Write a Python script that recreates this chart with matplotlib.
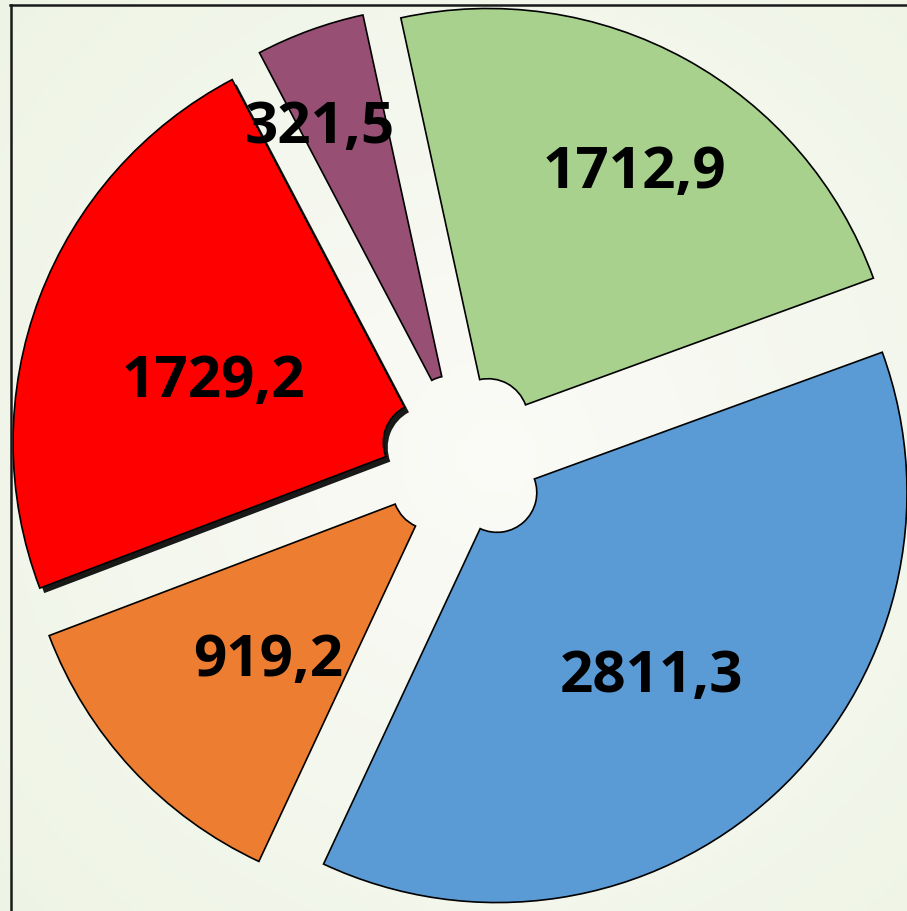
import matplotlib
matplotlib.use('Agg')
import matplotlib.pyplot as plt
import matplotlib.patheffects as pe
from matplotlib.lines import Line2D
import numpy as np

# ---- data ----
values = [1712.9, 2811.3, 919.2, 1729.2, 321.5]
labels = ['1712,9', '2811,3', '919,2', '1729,2', '321,5']
colors = ['#A9D18E', '#5B9BD5', '#ED7D31', '#FF0000', '#975074']

# ---- layout / style ----
W, H = 907, 911
dpi = 100
R = 410.0                 # outer radius in px
cx, cy = 466.0, 458.7     # pie centre in px (from top-left)
label_r = [0.706, 0.578, 0.571, 0.536, 0.78]
label_dang = [-1.5, -1.9, 2.6, 3.55, 4.1]
label_dy = -4.0 / R       # small downward nudge for visual centring

fig = plt.figure(figsize=(W / dpi, H / dpi), dpi=dpi)

# background gradient
bg = fig.add_axes([0, 0, 1, 1])
yy, xx = np.mgrid[0:1:300j, 0:1:300j]
d = np.clip(np.sqrt((xx - 0.55) ** 2 + (yy - 0.5) ** 2) / 0.75, 0, 1)
c0 = np.array([251, 251, 247]) / 255
c1 = np.array([238, 244, 229]) / 255
img = c0 + (c1 - c0) * d[..., None]
bg.imshow(img, extent=[0, 1, 0, 1], aspect='auto', origin='upper')
bg.axis('off')

ax = fig.add_axes([0, 0, 1, 1])
ax.patch.set_alpha(0)
wedges, _ = ax.pie(values, colors=colors, startangle=102.3, counterclock=False,
                   radius=1, explode=[0.112] * len(values),
                   wedgeprops=dict(width=0.903, edgecolor='black', linewidth=1.2),
                   frame=True)
ax.set_aspect('auto')
ax.set_xlim(-cx / R, (W - cx) / R)
ax.set_ylim(-(H - cy) / R, cy / R)
ax.axis('off')

wedges[3].set_path_effects([
    pe.SimplePatchShadow(offset=(3.2, -3.6), shadow_rgbFace='black', alpha=0.9),
    pe.Normal()])

for w, lab, r, da in zip(wedges, labels, label_r, label_dang):
    th = np.deg2rad((w.theta1 + w.theta2) / 2 + da)
    x = w.center[0] + r * np.cos(th)
    y = w.center[1] + r * np.sin(th) + label_dy
    ax.text(x, y, lab, ha='center', va='center', fontsize=42,
            fontweight='bold', family=['Open Sans', 'DejaVu Sans'], color='black')

# frame lines
fig.add_artist(Line2D([10.5 / W, 10.5 / W], [0, 1 - 5 / H], transform=fig.transFigure,
                      color='#1a1a1a', lw=1.8))
fig.add_artist(Line2D([10 / W, 1], [1 - 5 / H, 1 - 5 / H], transform=fig.transFigure,
                      color='#1a1a1a', lw=1.8))

fig.savefig('out.png', dpi=dpi)
